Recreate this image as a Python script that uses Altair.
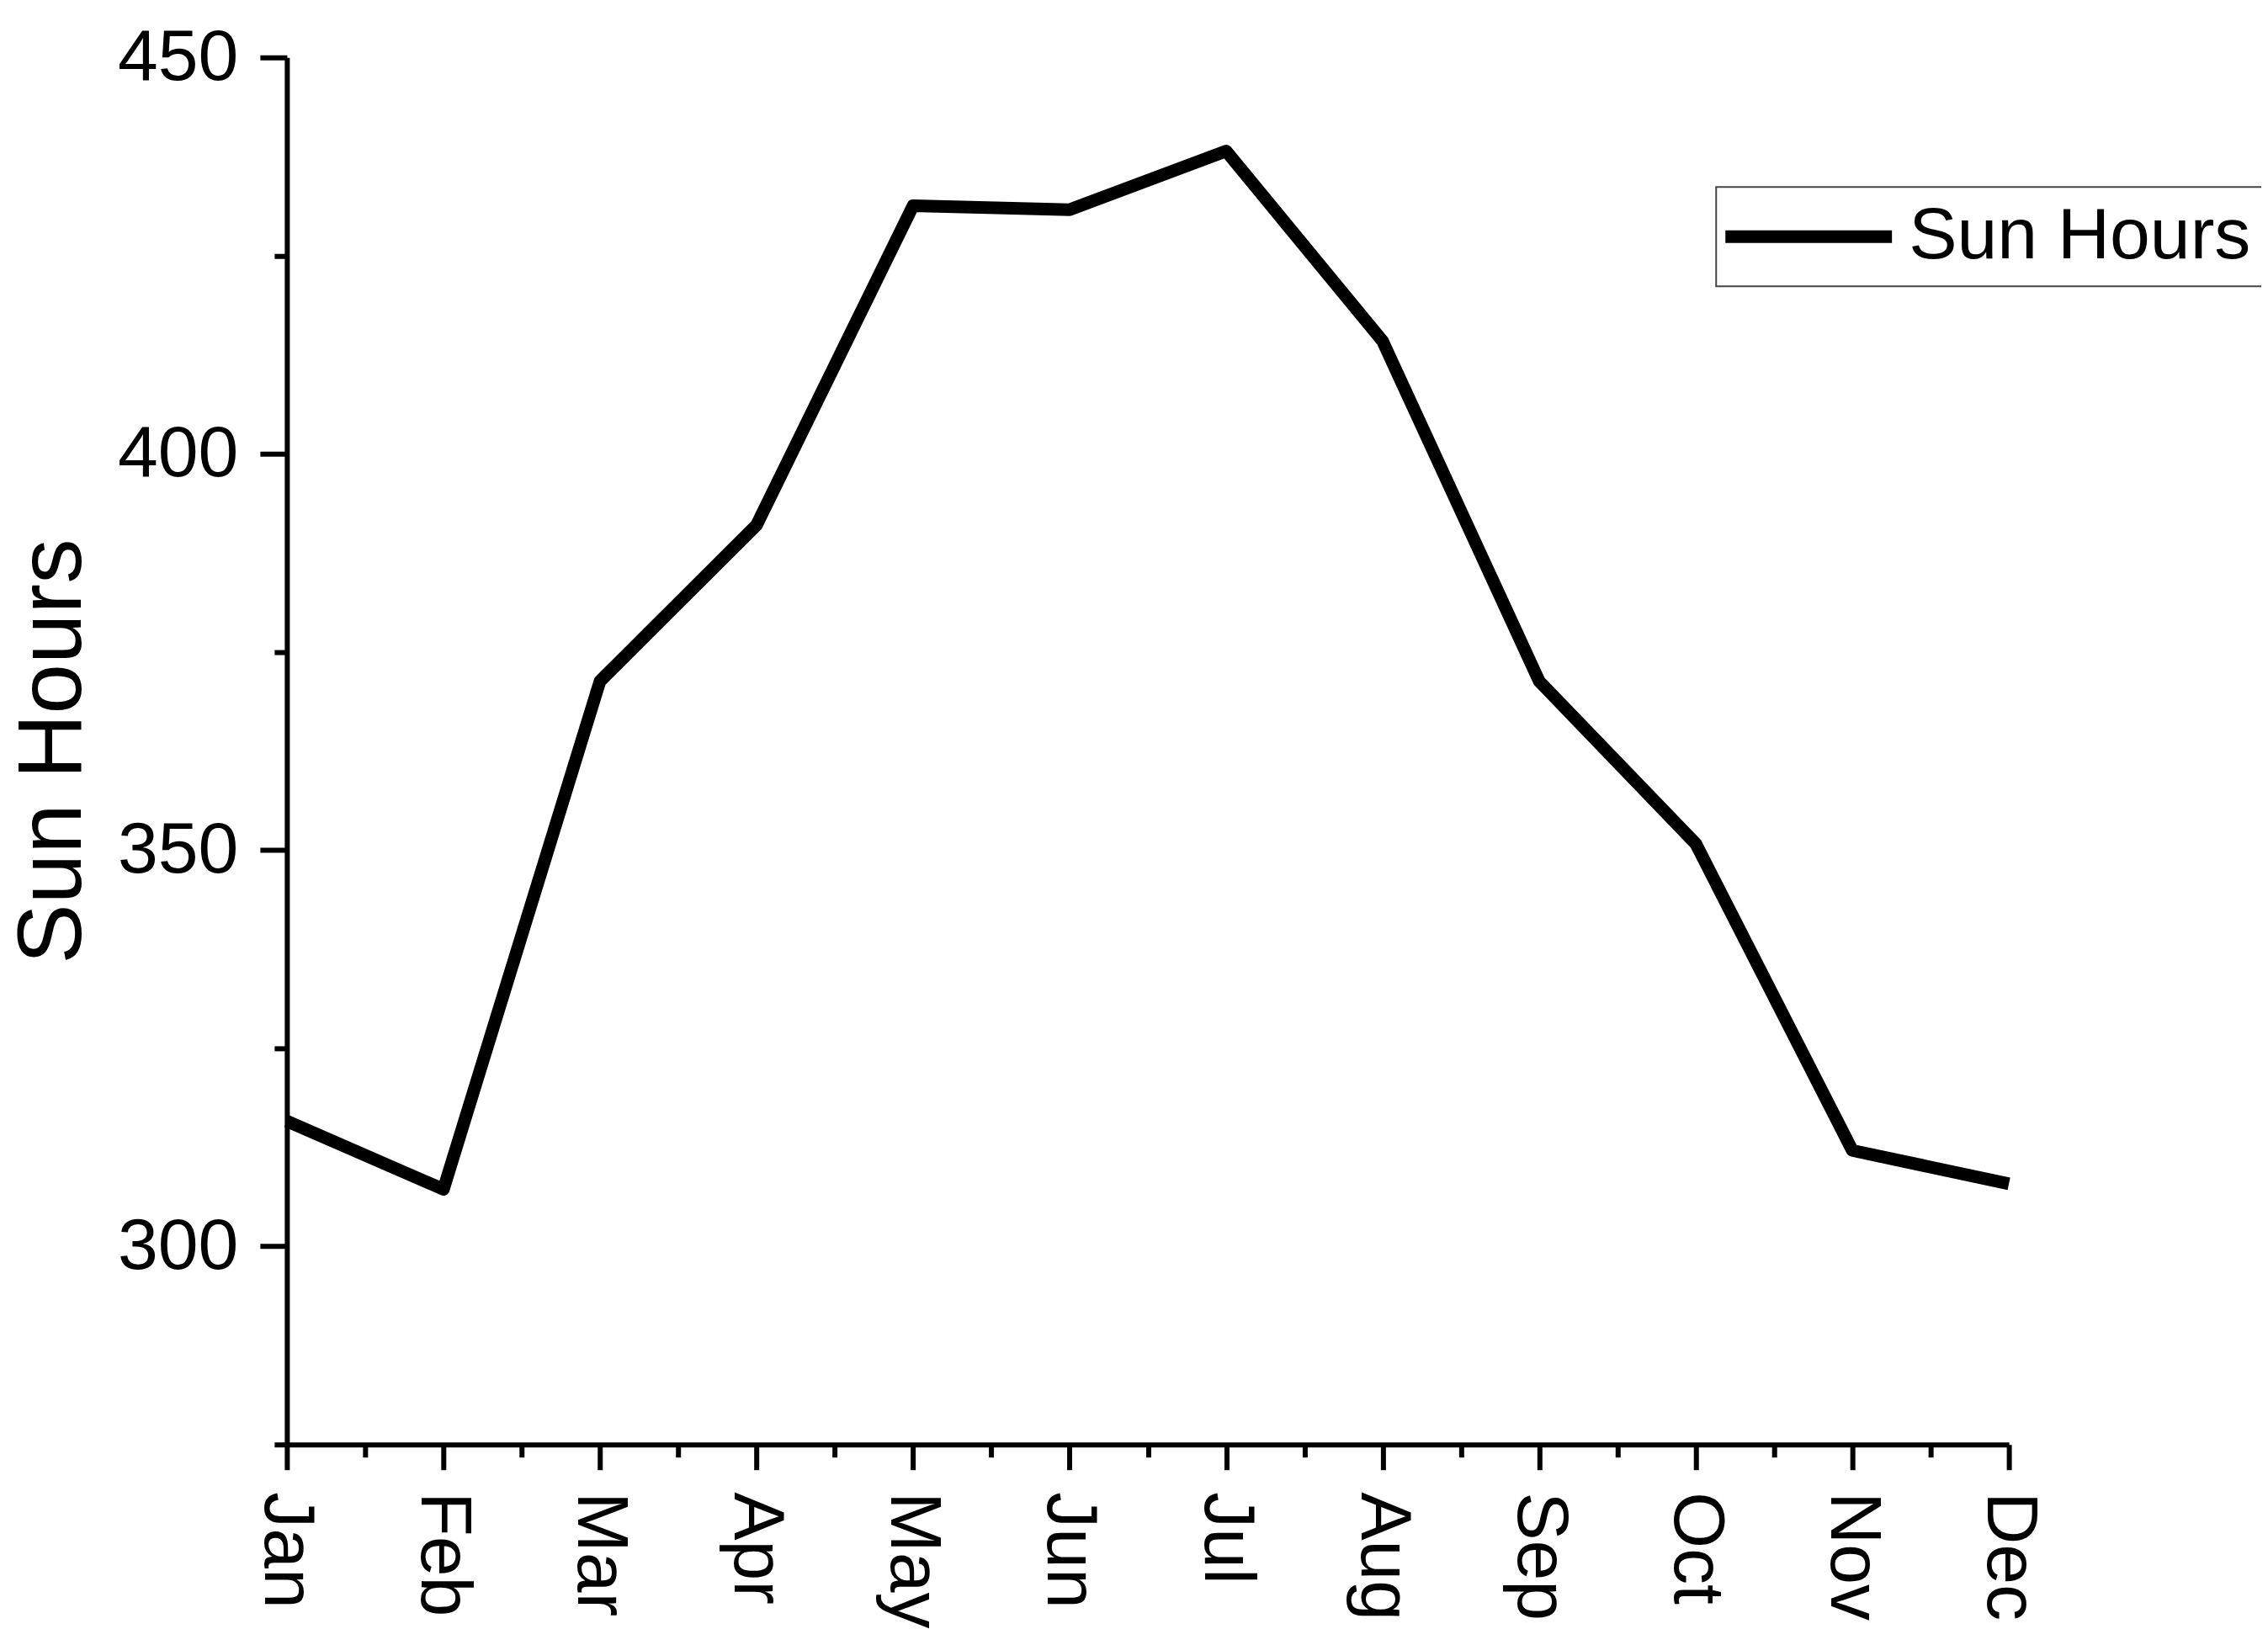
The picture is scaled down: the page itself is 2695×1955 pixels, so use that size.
import json
import altair as alt
import pandas as pd

MONTHS = ["Jan", "Feb", "Mar", "Apr", "May", "Jun",
          "Jul", "Aug", "Sep", "Oct", "Nov", "Dec"]
SUN_HOURS = [315.8, 307.2, 371.3, 391.0, 431.3, 430.8,
             438.2, 414.2, 371.3, 350.8, 312.1, 307.9]
SERIES = "Sun Hours"
Y_TICKS = [275, 300, 325, 350, 375, 400, 425, 450]

df = pd.DataFrame({
    "idx": list(range(len(MONTHS))),
    "month": MONTHS,
    "value": SUN_HOURS,
    "series": [SERIES] * len(MONTHS),
})

x_values = [i / 2 for i in range(2 * (len(MONTHS) - 1) + 1)]
month_js = json.dumps(MONTHS)
FONT = "Liberation Sans"

chart = alt.Chart(df).mark_line(strokeWidth=15, strokeJoin="round").encode(
    x=alt.X(
        "idx:Q",
        scale=alt.Scale(domain=[0, len(MONTHS) - 1], nice=False, zero=False),
        axis=alt.Axis(
            title=None,
            values=x_values,
            labelExpr=f"datum.value % 1 === 0 ? {month_js}[datum.value] : ''",
            labelAngle=90,
            labelFont=FONT,
            labelFontSize=86,
            labelColor="black",
            labelPadding=26,
            labelFlush=False,
            labelOverlap=False,
            grid=False,
            domainColor="black",
            domainWidth=6,
            tickColor="black",
            tickWidth=6,
            tickSize={"condition": {"test": "datum.value % 1 === 0", "value": 30}, "value": 15},
        ),
    ),
    y=alt.Y(
        "value:Q",
        scale=alt.Scale(domain=[275, 450], nice=False, zero=False),
        axis=alt.Axis(
            title="Sun Hours",
            titleFont=FONT,
            titleFontSize=107,
            titleFontWeight="normal",
            titleColor="black",
            titleX=-245,
            titleBaseline="alphabetic",
            values=Y_TICKS,
            labelExpr="datum.value % 50 === 0 ? datum.label : ''",
            labelFont=FONT,
            labelFontSize=86,
            labelColor="black",
            labelPadding=26,
            labelFlush=False,
            labelOverlap=False,
            grid=False,
            domainColor="black",
            domainWidth=6,
            tickColor="black",
            tickWidth=6,
            tickSize={"condition": {"test": "datum.value % 50 === 0", "value": 32}, "value": 15},
        ),
    ),
    color=alt.Color(
        "series:N",
        scale=alt.Scale(range=["black"]),
        legend=alt.Legend(
            title=None,
            orient="none",
            legendX=1699,
            legendY=154,
            symbolType="M-4,0H12.5",
            symbolSize=576,
            symbolStrokeWidth=15,
            labelOffset=127,
            labelLimit=0,
            labelFont=FONT,
            labelFontSize=86,
            labelColor="black",
            strokeColor="#444444",
            fillColor="white",
            padding=16,
        ),
    ),
).properties(
    width=2047,
    height=1649,
    background="white",
    autosize=alt.AutoSizeParams(type="none"),
    padding={"left": 333, "top": 60, "right": 300, "bottom": 220},
).configure_view(
    strokeWidth=0, stroke="transparent"
).configure_legend(
    strokeWidth=2,
)

chart.save("out.html", embed_options={"renderer": "svg", "actions": False})
